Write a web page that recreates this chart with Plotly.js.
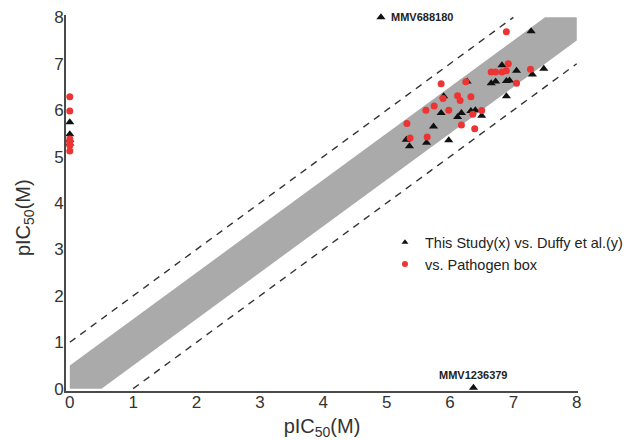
<!DOCTYPE html>
<html>
<head>
<meta charset="utf-8">
<script src="https://cdn.plot.ly/plotly-3.0.1.min.js"></script>
<style>html,body{margin:0;padding:0;background:#fff;}#chart{width:626px;height:440px;}</style>
</head>
<body>
<div id="chart"></div>
<script>
// ---- data ----
// Black triangles: This Study (x) vs. Duffy et al. (y)
const studyX = [7.28, 6.82, 7.05, 7.48, 7.30, 6.65, 6.72, 6.89, 6.94, 6.27, 5.90, 6.89,
                5.86, 6.18, 6.12, 6.33, 6.40, 6.50, 5.74, 5.31, 5.36, 5.63, 5.98,
                0, 0, 0, 0];
const studyY = [7.70, 6.97, 6.85, 6.89, 6.77, 6.58, 6.62, 6.63, 6.64, 6.62, 6.30, 6.30,
                5.94, 5.94, 5.85, 5.98, 6.00, 5.88, 5.65, 5.36, 5.22, 5.30, 5.35,
                5.74, 5.48, 5.36, 5.28];
// Red dots: vs. Pathogen box
const pathX = [6.89, 6.92, 6.65, 6.72, 6.82, 6.89, 7.27, 7.05, 5.86, 6.25, 5.89, 6.12,
               6.16, 6.33, 5.75, 5.62, 5.98, 6.36, 6.50, 5.32, 6.18, 6.39, 5.37, 5.64,
               0, 0, 0, 0, 0, 0];
const pathY = [7.69, 7.00, 6.82, 6.82, 6.82, 6.85, 6.88, 6.58, 6.57, 6.61, 6.25, 6.31,
               6.21, 6.29, 6.09, 6.00, 6.00, 5.91, 5.99, 5.71, 5.68, 5.60, 5.40, 5.42,
               6.29, 5.98, 5.38, 5.31, 5.24, 5.12];
// Labelled outliers
const outlierNames = ["MMV688180", "MMV1236379"];
const outlierX = [4.91, 6.37];
const outlierY = [8.0, 0.02];
// Identity-line band and limit lines
const bandHalfWidth = 0.5;
const limitOffset = 1;
const axisMin = 0, axisMax = 8;
const tickValues = [0, 1, 2, 3, 4, 5, 6, 7, 8];
const legendNames = ["This Study(x) vs. Duffy et al.(y)", "vs. Pathogen box"];
const axisTitle = "pIC<sub>50</sub>(M)";

// ---- build geometry from the constants ----
const h = bandHalfWidth;
const bandX = [axisMin, axisMax - h, axisMax, axisMax, axisMin + h, axisMin, axisMin];
const bandY = [axisMin + h, axisMax, axisMax, axisMax - h, axisMin, axisMin, axisMin + h];
const upX = [axisMin, axisMax - limitOffset], upY = [axisMin + limitOffset, axisMax];
const loX = [axisMin + limitOffset, axisMax], loY = [axisMin, axisMax - limitOffset];

const FONT = "Liberation Sans, Arial, sans-serif";
const BLACK = "#111111";
const RED = "#ec3434";

const traces = [
  {x: bandX, y: bandY, mode: "lines", fill: "toself", fillcolor: "rgb(170,170,170)",
   line: {width: 0, color: "rgba(0,0,0,0)"}, hoverinfo: "skip", showlegend: false},
  {x: upX, y: upY, mode: "lines", line: {color: "#333", width: 1.4, dash: "7px,6px"},
   showlegend: false, hoverinfo: "skip"},
  {x: loX, y: loY, mode: "lines", line: {color: "#333", width: 1.4, dash: "7px,6px"},
   showlegend: false, hoverinfo: "skip"},
  {x: studyX, y: studyY, mode: "markers", showlegend: false,
   marker: {symbol: "triangle-up", size: 8, color: BLACK}},
  {x: outlierX, y: outlierY, mode: "markers", showlegend: false, cliponaxis: false,
   marker: {symbol: "triangle-up", size: 8, color: BLACK}},
  {x: pathX, y: pathY, mode: "markers", showlegend: false,
   marker: {symbol: "circle", size: 7, color: RED}},
  // legend entries
  {x: [null], y: [null], mode: "markers", name: legendNames[0],
   marker: {symbol: "triangle-up", size: 6, color: BLACK}},
  {x: [null], y: [null], mode: "markers", name: legendNames[1],
   marker: {symbol: "circle", size: 6, color: RED}}
];

const axisCommon = {
  showgrid: false, zeroline: false, showline: true, linecolor: "#4a4a4a", linewidth: 2,
  ticks: "", tickvals: tickValues, ticktext: tickValues.map(String),
  tickfont: {family: FONT, size: 17, color: "#333"}, fixedrange: true, automargin: false
};

const layout = {
  width: 626, height: 440,
  margin: {l: 66, r: 48, t: 15, b: 49, autoexpand: false},
  paper_bgcolor: "#fff", plot_bgcolor: "#fff",
  font: {family: FONT, color: "#222"},
  showlegend: true,
  legend: {x: 0.623, xanchor: "left", y: 0.438, yanchor: "top",
           font: {family: FONT, size: 14.5, color: "#222"},
           bgcolor: "rgba(0,0,0,0)", tracegroupgap: 0},
  xaxis: Object.assign({}, axisCommon, {range: [-0.06, 8.02], ticklabelstandoff: -5,
    title: {text: axisTitle, font: {family: FONT, size: 20, color: "#333"}, standoff: 9}}),
  yaxis: Object.assign({}, axisCommon, {range: [-0.05, 8.05], ticklabelstandoff: -3}),
  annotations: [
    {x: -0.082, y: 0.46, xref: "paper", yref: "paper", text: axisTitle, textangle: -90,
     showarrow: false, xanchor: "center", yanchor: "middle",
     font: {family: FONT, size: 20, color: "#333"}},
    {x: outlierX[0], y: outlierY[0], xref: "x", yref: "y", text: "<b>" + outlierNames[0] + "</b>",
     showarrow: false, xanchor: "left", yanchor: "middle", xshift: 8,
     font: {family: FONT, size: 11, color: "#222"}},
    {x: outlierX[1], y: outlierY[1], xref: "x", yref: "y", text: "<b>" + outlierNames[1] + "</b>",
     showarrow: false, xanchor: "center", yanchor: "bottom", yshift: 5,
     font: {family: FONT, size: 11, color: "#222"}}
  ]
};

Plotly.newPlot("chart", traces, layout, {staticPlot: true, displayModeBar: false});
</script>
</body>
</html>
